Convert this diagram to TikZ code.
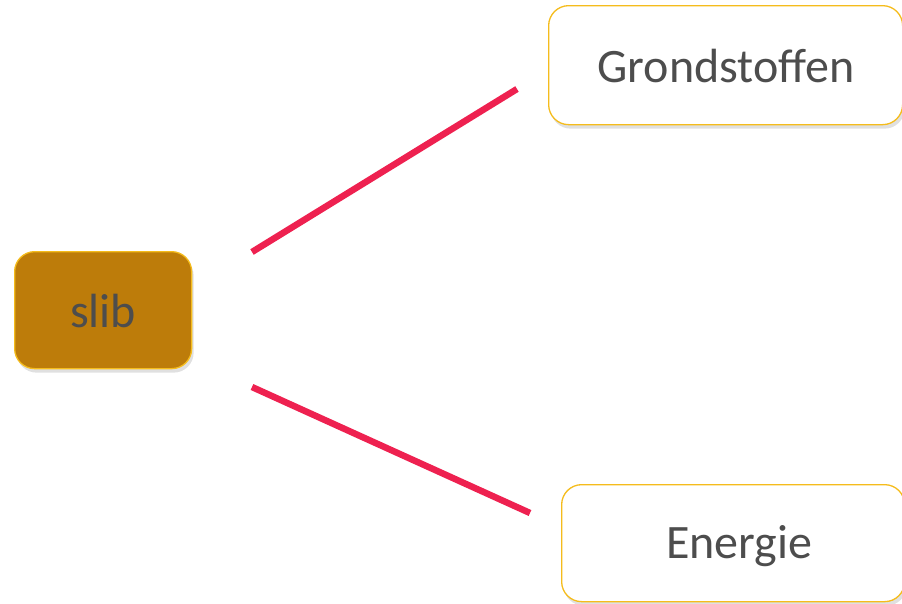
\documentclass[tikz,border=0pt]{standalone}
\usepackage{fontspec}
\setmainfont{Carlito}
\usetikzlibrary{shadows}
\definecolor{boxline}{HTML}{F5BC1C}
\definecolor{slibfill}{HTML}{BD7C0A}
\definecolor{txt}{HTML}{4D4D4D}
\definecolor{conn}{HTML}{EE2150}
\tikzset{
  box/.style={draw=boxline, line width=1.3pt, rounded corners=20pt, fill=white,
    text=txt, font=\fontsize{48}{56}\selectfont, text height=35pt, text depth=0pt,
    drop shadow={shadow xshift=2pt, shadow yshift=-4pt, fill=black, opacity=0.12}},
  link/.style={draw=conn, line width=6.5pt}
}
\begin{document}
\begin{tikzpicture}[x=1pt,y=-1pt]
\useasboundingbox (0,0) rectangle (902,603);
\node[box, fill=slibfill, minimum width=177pt, minimum height=117pt, anchor=north west] (slib) at (14,251) {slib};
\node[box, minimum width=354pt, minimum height=119pt, anchor=north west] (grond) at (548,5) {\hspace*{1pt}Grondstoffen};
\node[box, text height=31pt, minimum width=343pt, minimum height=117pt, anchor=north west] (energie) at (561,484) {\hspace*{12pt}Energie};
\coordinate (a1) at (252,252);
\coordinate (a2) at (517,89);
\coordinate (b1) at (252,387);
\coordinate (b2) at (530,513);
\draw[link] (a1) -- (a2);
\draw[link] (b1) -- (b2);
\end{tikzpicture}
\end{document}
